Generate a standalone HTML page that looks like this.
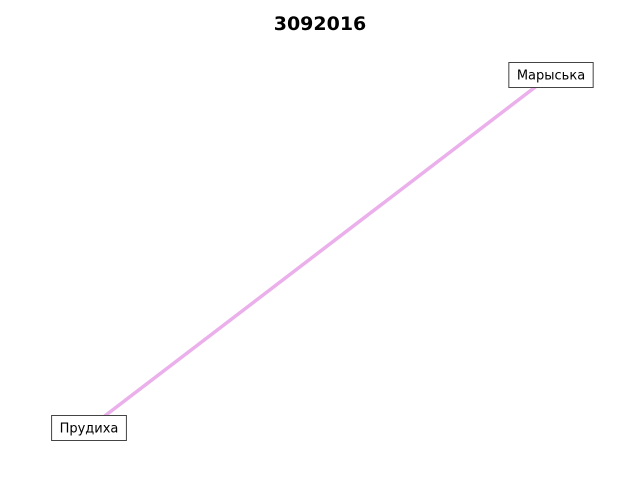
<!DOCTYPE html>
<html><head><meta charset="utf-8"><style>
html,body{margin:0;padding:0;background:#fff;}
svg{display:block;font-family:"DejaVu Sans","Liberation Sans",sans-serif;}
</style></head><body>
<svg id="chart" width="640" height="480" viewBox="0 0 640 480">
<text x="320" y="30" text-anchor="middle" font-size="19" font-weight="bold">3092016</text>
<g id="edges"></g><g id="nodes"></g>
</svg>
<script>
const nodeNames = ["Прудиха", "Марыська"];
const nodeX = [0, 1];
const nodeY = [0, 1];
const edgeFrom = [0];
const edgeTo = [1];
const sx = v => 89 + v * (551 - 89);
const sy = v => 428 - v * (428 - 75);
const NS = "http://www.w3.org/2000/svg";
const eg = document.getElementById("edges"), ng = document.getElementById("nodes");
for (let i = 0; i < edgeFrom.length; i++) {
  const l = document.createElementNS(NS, "line");
  
  
  l.setAttribute("x1", sx(nodeX[edgeFrom[i]])); l.setAttribute("y1", sy(nodeY[edgeFrom[i]]));
  l.setAttribute("x2", sx(nodeX[edgeTo[i]])); l.setAttribute("y2", sy(nodeY[edgeTo[i]]));
  l.setAttribute("stroke", "#ebb0eb"); l.setAttribute("stroke-width", "3.5");
  eg.appendChild(l);
}
for (let i = 0; i < nodeNames.length; i++) {
  const g = document.createElementNS(NS, "g");
  
  
  const t = document.createElementNS(NS, "text");
  t.setAttribute("x", sx(nodeX[i])); t.setAttribute("y", sy(nodeY[i]) + 4.5);
  t.setAttribute("text-anchor", "middle"); t.setAttribute("font-size", "13");
  t.textContent = nodeNames[i];
  const r = document.createElementNS(NS, "rect");
  g.appendChild(r); g.appendChild(t); ng.appendChild(g);
  const w = t.getComputedTextLength() + 16;
  r.setAttribute("x", sx(nodeX[i]) - w / 2); r.setAttribute("y", sy(nodeY[i]) - 12.5);
  r.setAttribute("width", w); r.setAttribute("height", 25);
  r.setAttribute("fill", "#fff"); r.setAttribute("stroke", "#444"); r.setAttribute("stroke-width", "1");
}
</script>
</body></html>
